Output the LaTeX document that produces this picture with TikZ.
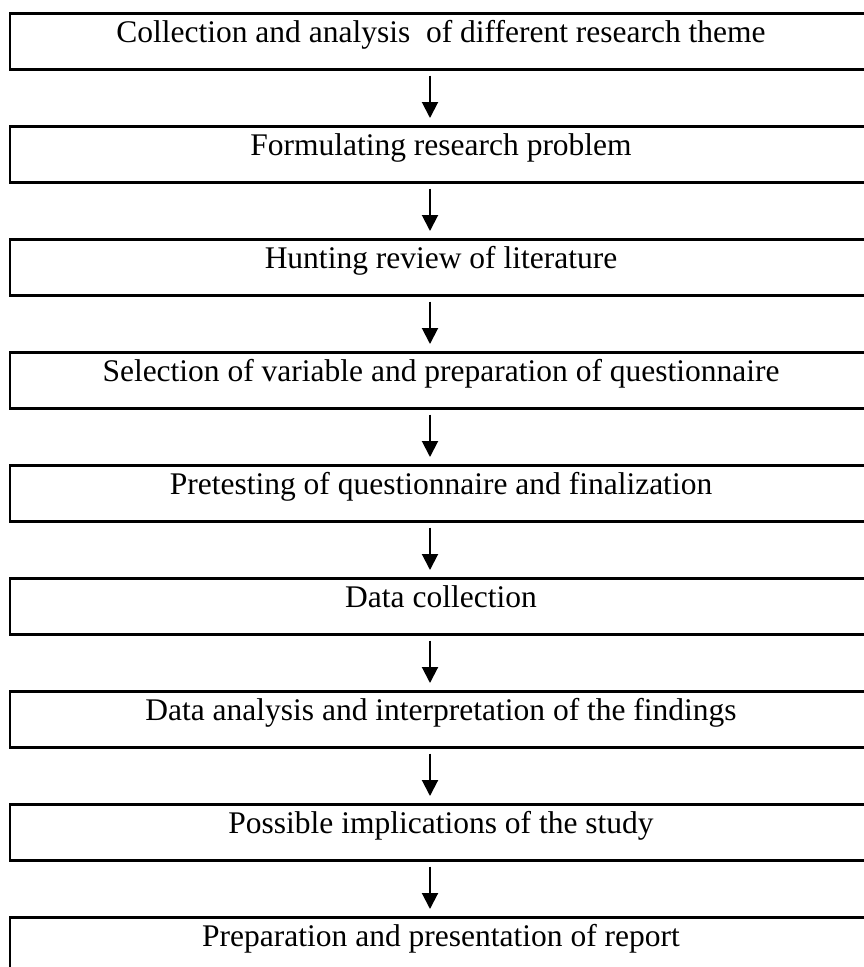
\documentclass[tikz,border=0pt]{standalone}
\usepackage{fontspec}
\setmainfont{Liberation Serif}
\usetikzlibrary{arrows.meta}
\begin{document}
\begin{tikzpicture}[x=1pt,y=1pt,
  stepbox/.style={draw, line width=2.5pt, rectangle, inner sep=0pt,
    minimum width=862pt, text height=29.5pt, text depth=26.5pt,
    font=\fontsize{31.5}{33}\selectfont, anchor=north},
  arr/.style={line width=2pt, -{Triangle[width=16pt,length=16pt]}}]
\clip (0,0) rectangle (864,-967);
\useasboundingbox (0,0) rectangle (864,-967);
\node[stepbox] (b1) at (441,-12) {Collection and analysis \ of different research theme};
\node[stepbox] (b2) at (441,-125) {Formulating research problem};
\node[stepbox] (b3) at (441,-238) {Hunting review of literature};
\node[stepbox] (b4) at (441,-351) {Selection of variable and preparation of questionnaire};
\node[stepbox] (b5) at (441,-464) {Pretesting of questionnaire and finalization};
\node[stepbox] (b6) at (441,-577) {Data collection};
\node[stepbox] (b7) at (441,-690) {Data analysis and interpretation of the findings};
\node[stepbox] (b8) at (441,-803) {Possible implications of the study};
\node[stepbox] (b9) at (441,-916) {Preparation and presentation of report};
\foreach \a/\b in {b1/b2,b2/b3,b3/b4,b4/b5,b5/b6,b6/b7,b7/b8,b8/b9}{
  \draw[arr] ([xshift=-11pt,yshift=-5pt]\a.south) -- ([xshift=-11pt,yshift=7pt]\b.north);
}
\end{tikzpicture}
\end{document}
